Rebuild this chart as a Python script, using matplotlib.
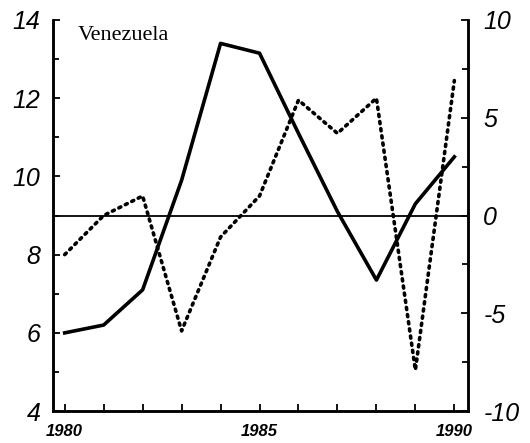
import numpy as np
import matplotlib.pyplot as plt
from matplotlib import font_manager

years = [1980, 1981, 1982, 1983, 1984, 1985, 1986, 1987, 1988, 1989, 1990]
# solid line, left axis
solid = [6.0, 6.2, 7.1, 9.9, 13.4, 13.15, 11.1, 9.1, 7.35, 9.3, 10.5]
# dotted line, right axis
dotted = [-2.0, 0.0, 1.0, -5.9, -1.1, 1.0, 5.9, 4.2, 6.0, -7.9, 6.9]

year_labels = ['1980', '', '', '', '', '1985', '', '', '', '', '1990']
title = 'Venezuela'

# pick a sans family that really has an italic face
family = 'DejaVu Sans'
for fam in ['Liberation Sans', 'Arimo', 'Roboto', 'Open Sans', 'Lato', 'Noto Sans', 'DejaVu Sans']:
    try:
        f = font_manager.findfont(font_manager.FontProperties(family=fam, style='italic'),
                                  fallback_to_default=False)
    except Exception:
        continue
    if 'italic' in f.lower() or 'oblique' in f.lower():
        family = fam
        break

plt.rcParams['font.family'] = [family, 'DejaVu Sans']
plt.rcParams['font.style'] = 'italic'
plt.rcParams['axes.unicode_minus'] = False

fig = plt.figure(figsize=(5.3, 4.43), dpi=100)
ax = fig.add_axes([0.1, 0.072, 0.783, 0.883])
ax2 = ax.twinx()

ax.plot(years, solid, color='black', lw=2.6)
ax2.plot(years, dotted, color='black', lw=2.6, linestyle=(0, (0.6, 1.4)),
         dash_capstyle='round')
ax2.axhline(0, color='black', lw=1.3)

ax.set_xlim(1979.7, 1990.35)
ax.set_ylim(4, 14)
ax2.set_ylim(-10, 10)

ax.set_xticks(years)
ax.set_xticklabels(year_labels, fontsize=12, fontweight='bold', style='italic')
ax.set_yticks([4, 6, 8, 10, 12, 14])
ax.set_yticklabels(['4', '6', '8', '10', '12', '14'], style='italic')
ax.set_yticks(np.arange(5, 14, 2), minor=True)
ax.tick_params(axis='y', labelsize=18, direction='in', length=5, width=1.3, pad=9)
ax.tick_params(axis='y', which='minor', direction='in', length=4, width=1.3)
ax.tick_params(axis='x', direction='in', length=5, width=1.3, pad=9)

ax2.set_yticks([-10, -5, 0, 5, 10])
ax2.set_yticklabels(['-10', '-5', '0', '5', '10'], style='italic')
ax2.set_yticks([-7.5, -2.5, 2.5, 7.5], minor=True)
ax2.tick_params(axis='y', labelsize=18, direction='in', length=5, width=1.3, pad=11)
ax2.tick_params(axis='y', which='minor', direction='in', length=4, width=1.3)

for a in (ax, ax2):
    a.spines['top'].set_visible(False)
    for s in ('left', 'right', 'bottom'):
        a.spines[s].set_linewidth(1.8)

ax.text(0.06, 0.985, title, transform=ax.transAxes, family='Liberation Serif',
        style='normal', fontsize=16, va='top', ha='left')

fig.savefig('out.png', dpi=100)
